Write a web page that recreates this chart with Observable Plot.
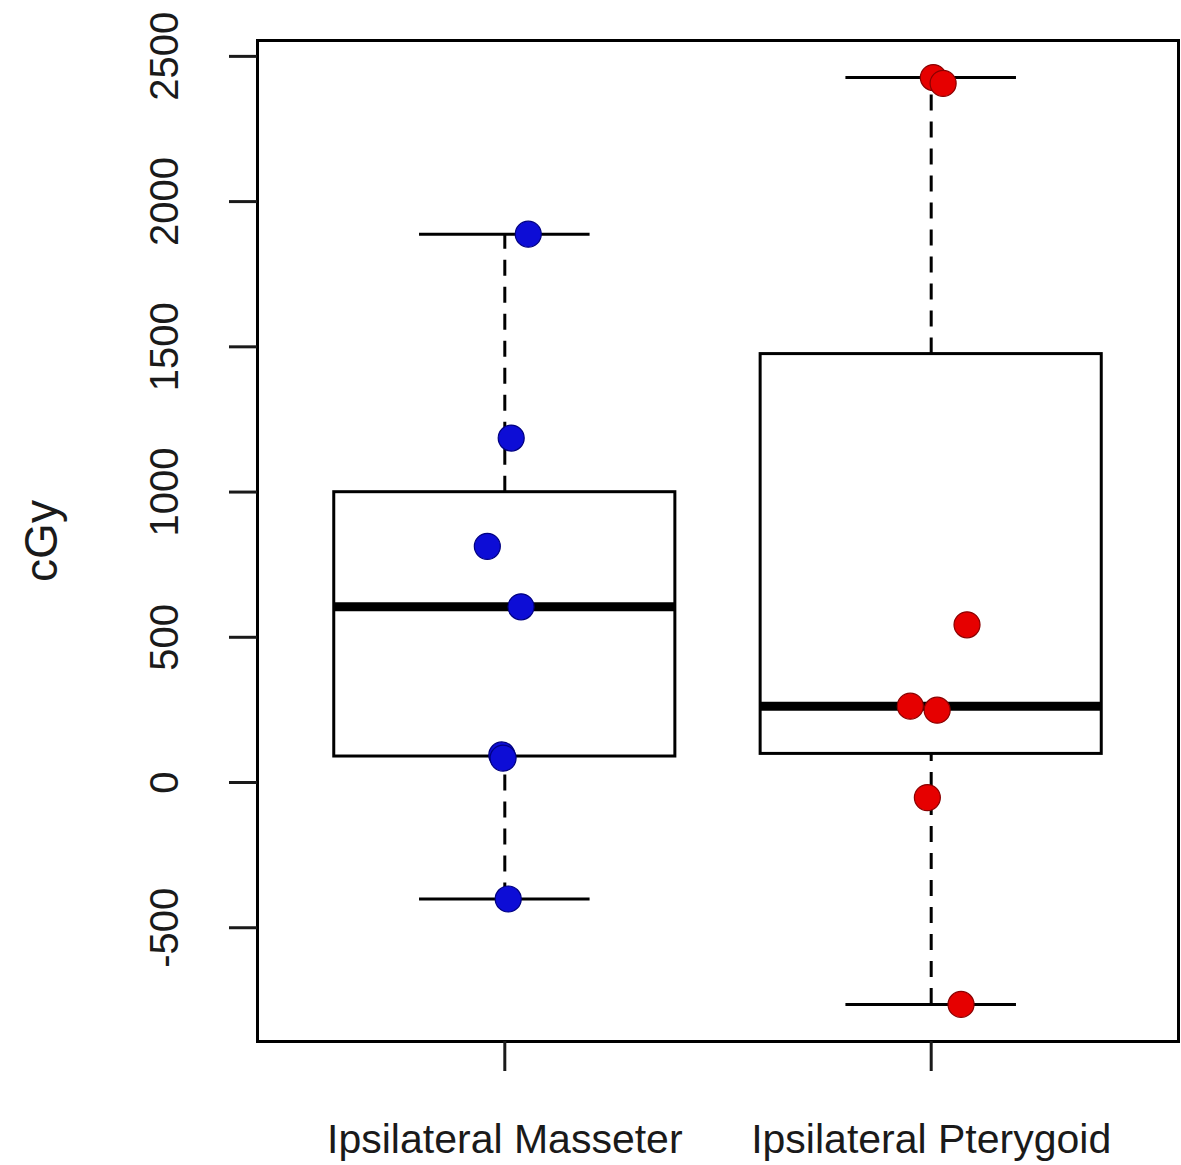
<!DOCTYPE html>
<html>
<head>
<meta charset="utf-8">
<script src="https://cdn.jsdelivr.net/npm/d3@7"></script>
<script src="https://cdn.jsdelivr.net/npm/@observablehq/plot@0.6"></script>
<style>
  html, body { margin: 0; padding: 0; background: #fff; }
  #chart svg { display: block; }
</style>
</head>
<body>
<div id="chart"></div>
<script>
// ---- data ----
const groups = ["Ipsilateral Masseter", "Ipsilateral Pterygoid"];
const massValues = [1888, 1186, 813, 605, 95, 84, -401];
const massJitter = [0.055, 0.015, -0.041, 0.038, -0.007, -0.004, 0.008];
const ptValues = [2427, 2407, 543, 263, 249, -52, -764];
const ptJitter = [0.005, 0.028, 0.084, -0.049, 0.014, -0.009, 0.070];
const yTicks = [-500, 0, 500, 1000, 1500, 2000, 2500];
const pointColors = ["#0d0dd6", "#e60000"];
const pointStrokes = ["#000080", "#8a0000"];

// ---- Tukey five-number summary (R's boxplot stats) ----
function fivenum(values) {
  const x = values.slice().sort((a, b) => a - b);
  const n = x.length;
  const n4 = Math.floor((n + 3) / 2) / 2;
  const d = [1, n4, (n + 1) / 2, n + 1 - n4, n];
  return d.map(p => 0.5 * (x[Math.floor(p) - 1] + x[Math.ceil(p) - 1]));
}

const series = [massValues, ptValues];
const jitters = [massJitter, ptJitter];
const stats = series.map((vals, i) => {
  const [lo, q1, med, q3, hi] = fivenum(vals);
  const iqr = q3 - q1;
  const inside = vals.filter(v => v >= q1 - 1.5 * iqr && v <= q3 + 1.5 * iqr);
  return {pos: i + 1, q1, med, q3, wlo: d3.min(inside), whi: d3.max(inside)};
});
const points = series.flatMap((vals, i) =>
  vals.map((v, j) => ({pos: i + 1 + jitters[i][j], value: v, g: i})));

// R-style axis extents (4% padding)
const all = series.flat();
const [ymin, ymax] = d3.extent(all);
const pad = 0.04 * (ymax - ymin);
const xlo = 0.5, xhi = groups.length + 0.5, xpad = 0.04 * (xhi - xlo);

const boxHalf = 0.4, capHalf = 0.2;
const font = "'Liberation Sans', Arial, Helvetica, sans-serif";

const chart = Plot.plot({
  width: 1181,
  height: 1165,
  marginLeft: 257,
  marginRight: 3,
  marginTop: 40,
  marginBottom: 124,
  style: {fontFamily: font, color: "#1a1a1a", background: "#fff", overflow: "visible"},
  x: {type: "linear", domain: [xlo - xpad, xhi + xpad]},
  y: {type: "linear", domain: [ymin - pad, ymax + pad]},
  marks: [
    // whiskers (dashed)
    Plot.ruleX(stats, {x: "pos", y1: "q3", y2: "whi", stroke: "black", strokeWidth: 3, strokeDasharray: "16,11"}),
    Plot.ruleX(stats, {x: "pos", y1: "wlo", y2: "q1", stroke: "black", strokeWidth: 3, strokeDasharray: "16,11"}),
    // staples
    Plot.ruleY(stats, {y: "whi", x1: d => d.pos - capHalf, x2: d => d.pos + capHalf, stroke: "black", strokeWidth: 3}),
    Plot.ruleY(stats, {y: "wlo", x1: d => d.pos - capHalf, x2: d => d.pos + capHalf, stroke: "black", strokeWidth: 3}),
    // boxes
    Plot.rect(stats, {x1: d => d.pos - boxHalf, x2: d => d.pos + boxHalf, y1: "q1", y2: "q3", fill: "white", stroke: "black", strokeWidth: 3}),
    // medians
    Plot.ruleY(stats, {y: "med", x1: d => d.pos - boxHalf, x2: d => d.pos + boxHalf, stroke: "black", strokeWidth: 9}),
    // points
    Plot.dot(points, {x: "pos", y: "value", r: 13, fill: d => pointColors[d.g], stroke: d => pointStrokes[d.g], strokeWidth: 1.2}),
    // frame
    Plot.frame({stroke: "black", strokeWidth: 3}),
    // y axis ticks + labels
    Plot.axisY(yTicks, {tickSize: 28, strokeWidth: 3, tickFormat: () => "", label: null}),
    Plot.text(yTicks, {y: d => d, text: d => String(d), frameAnchor: "left", dx: -92, rotate: -90,
      textAnchor: "middle", lineAnchor: "middle", fontSize: 40, fill: "#1a1a1a"}),
    // y title
    Plot.text(["cGy"], {frameAnchor: "left", dx: -215, rotate: -90, textAnchor: "middle",
      lineAnchor: "middle", fontSize: 46, fill: "#1a1a1a"}),
    // x axis
    Plot.axisX(groups.map((g, i) => i + 1), {tickSize: 30, strokeWidth: 3, tickPadding: 52,
      tickFormat: d => groups[d - 1], fontSize: 41, label: null, fill: "#1a1a1a"})
  ]
});

document.getElementById("chart").appendChild(chart);
</script>
</body>
</html>
